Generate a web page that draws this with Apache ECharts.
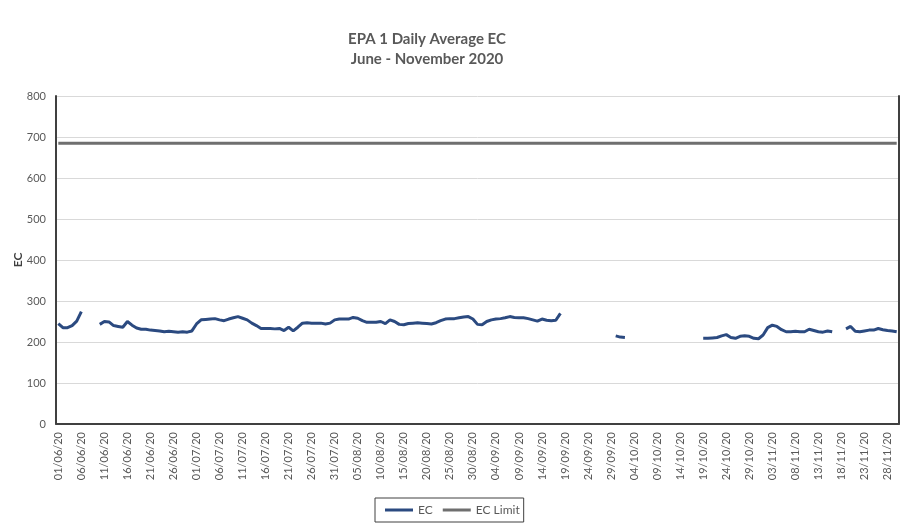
<!DOCTYPE html>
<html>
<head>
<meta charset="utf-8">
<script src="https://cdn.jsdelivr.net/npm/echarts@6/dist/echarts.min.js"></script>
<style>
  html, body { margin:0; padding:0; background:#fff; }
  #chart { width:905px; height:532px; }
</style>
</head>
<body>
<div id="chart"></div>
<script>
// daily categories 01/06/20 .. 30/11/20
var startDate = new Date(2020, 5, 1);
var dayCount = 183;
var dates = [];
for (var i = 0; i < dayCount; i++) {
  var d = new Date(startDate.getFullYear(), startDate.getMonth(), startDate.getDate() + i);
  var dd = ('0' + d.getDate()).slice(-2);
  var mm = ('0' + (d.getMonth() + 1)).slice(-2);
  dates.push(dd + '/' + mm + '/20');
}

// daily average EC, null = no reading
var ecJune = [245,235,235,240,251,274,null,null,null,243,250,249,240,238,236,250,241,234,231,231,229,228,227,225,226,225,224,225,224,227];
var ecJuly = [244,254,255,256,257,254,252,256,259,262,258,254,246,240,233,233,233,232,233,228,236,227,236,246,247,246,246,246,244,246,254];
var ecAugust = [256,256,256,260,258,252,248,248,248,250,245,254,250,243,242,245,246,247,246,245,244,247,252,256,257,257,259,261,262,256,243];
var ecSeptember = [242,250,254,256,257,259,262,260,259,259,257,254,251,256,253,252,253,270,null,null,null,null,null,null,null,null,null,null,null,215];
var ecOctober = [212,211,null,null,null,null,null,null,null,null,null,null,null,null,null,null,null,null,209,209,210,211,215,218,211,209,214,215,214,209,208];
var ecNovember = [217,235,241,238,230,225,225,226,225,225,231,228,225,224,227,225,null,null,232,238,226,225,227,229,229,233,230,228,227,225];
var ecValues = [].concat(ecJune, ecJuly, ecAugust, ecSeptember, ecOctober, ecNovember);

var ecLimit = 685;
var ecLimitValues = dates.map(function(){ return ecLimit; });

var yTicks = { min:0, max:800, interval:100 };

var textColor = '#595959';
var fontName = 'Lato';

let drawCharts = echarts.init(document.getElementById('chart'));
option = {
  animation:false,
  textStyle:{ fontFamily:fontName },
  title:{
    text:'EPA 1 Daily Average EC\nJune - November 2020',
    left:422,
    top:24,
    textAlign:'center',
    textStyle:{
      fontFamily:fontName,
      fontSize:15,
      fontWeight:'bold',
      color:textColor,
      lineHeight:20
    }
  },
  legend:{
    show:true,
    data:['EC','EC Limit'],
    left:375,
    top:498,
    icon:'rect',
    itemWidth:28,
    itemHeight:3,
    itemGap:10,
    padding:[6,4,6,10],
    borderColor:'#404040',
    borderWidth:1,
    textStyle:{ fontFamily:fontName, fontSize:12, color:textColor }
  },
  grid:{
    left:56,
    right:6,
    top:96,
    bottom:108,
    containLabel:false,
    outerBoundsMode:'none'
  },
  xAxis:[
    {
      type:'category',
      data:dates,
      boundaryGap:true,
      axisLine:{ show:true, lineStyle:{ color:'#d9d9d9', width:1 } },
      axisTick:{ show:false },
      axisLabel:{
        interval:4,
        rotate:90,
        margin:8,
        fontSize:11,
        color:textColor,
        fontFamily:fontName
      },
      splitLine:{ show:false }
    },
    {
      type:'category',
      data:dates,
      position:'top',
      boundaryGap:true,
      axisLine:{ show:true, lineStyle:{ color:'#404040', width:2 } },
      axisTick:{ show:false },
      axisLabel:{ show:false },
      splitLine:{ show:false }
    }
  ],
  yAxis:[
    {
      type:'value',
      min:yTicks.min,
      max:yTicks.max,
      interval:yTicks.interval,
      name:'EC',
      nameLocation:'middle',
      nameGap:32,
      nameRotate:90,
      nameMoveOverlap:false,
      nameTextStyle:{ fontFamily:fontName, fontSize:12, fontWeight:'bold', color:'#404040' },
      axisLine:{ show:true, lineStyle:{ color:'#404040', width:2 } },
      axisTick:{ show:false },
      axisLabel:{ fontSize:11, color:textColor, margin:10, fontFamily:fontName },
      splitLine:{ show:true, lineStyle:{ color:'#d9d9d9', width:1 } }
    },
    {
      type:'value',
      position:'right',
      min:yTicks.min,
      max:yTicks.max,
      interval:yTicks.interval,
      axisLine:{ show:true, lineStyle:{ color:'#404040', width:2 } },
      axisTick:{ show:false },
      axisLabel:{ show:false },
      splitLine:{ show:false }
    }
  ],
  series:[
    {
      name:'EC',
      type:'line',
      data:ecValues,
      symbol:'none',
      connectNulls:false,
      color:'#2b4a80',
      lineStyle:{ color:'#2b4a80', width:3 }
    },
    {
      name:'EC Limit',
      type:'line',
      data:ecLimitValues,
      symbol:'none',
      color:'#6f6f6f',
      lineStyle:{ color:'#6f6f6f', width:3 }
    }
  ]
};
drawCharts.setOption(option);
</script>
</body>
</html>
